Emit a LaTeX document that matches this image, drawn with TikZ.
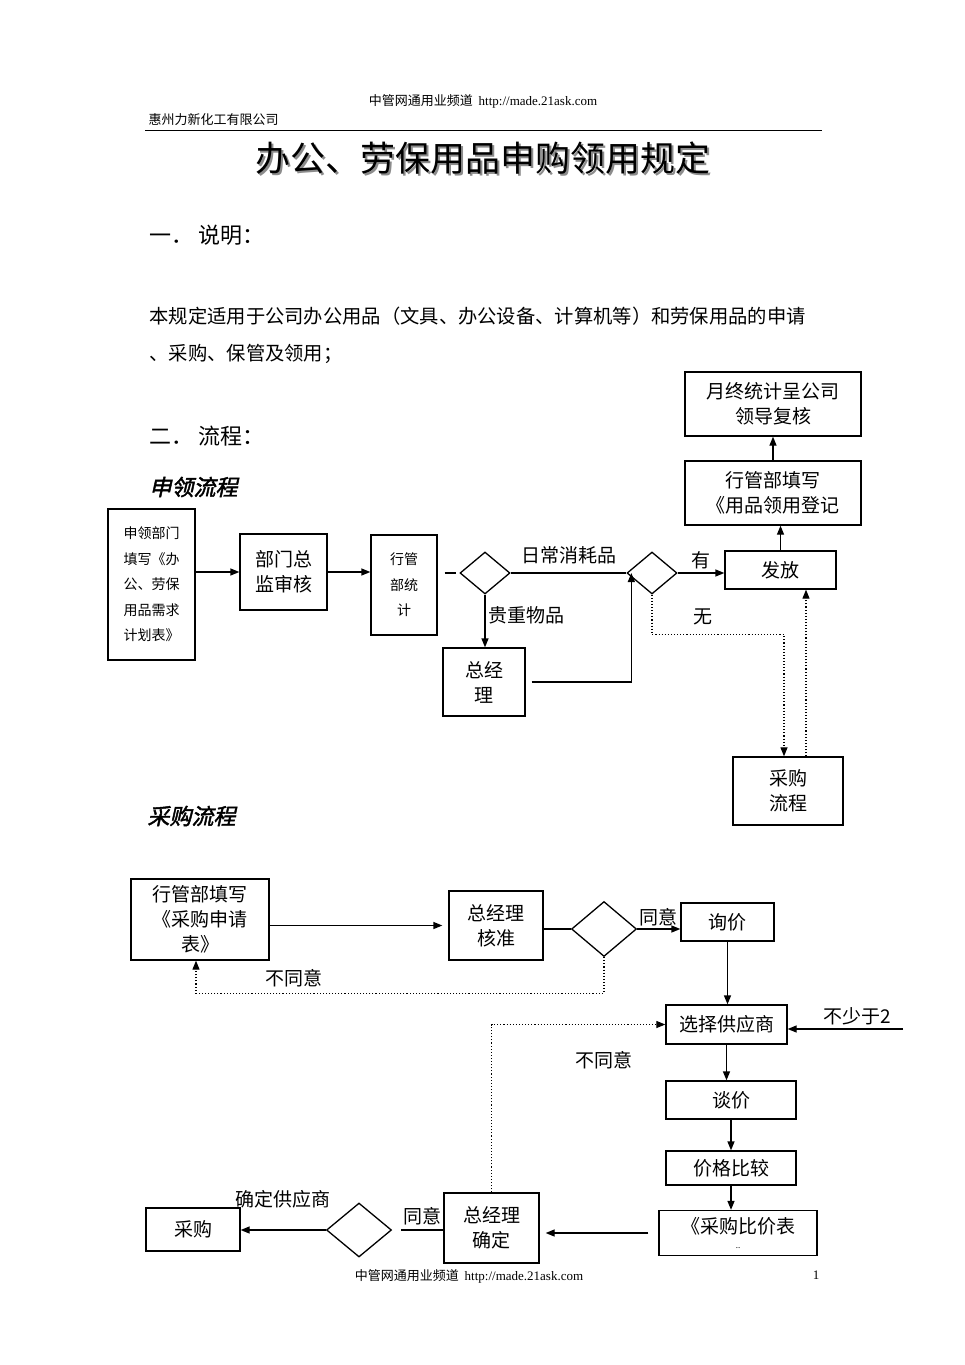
\documentclass[tikz,border=0pt]{standalone}
\usepackage{fontspec}
\setmainfont{Noto Sans CJK SC}
\newfontfamily\latinfont{Liberation Serif}
\newfontfamily\headfont{Noto Sans CJK SC}[FakeSlant=0.22,FakeBold=2]
\usetikzlibrary{shapes.geometric,arrows.meta}
\tikzset{
  box/.style={draw, line width=1.3pt, inner sep=0pt, align=center,
    font=\fontsize{19}{25}\selectfont},
  smallbox/.style={box, font=\fontsize{14}{25.5}\selectfont},
  dia/.style={draw, diamond, line width=1.3pt, inner sep=0pt},
  arr/.style={line width=1.3pt, -{Triangle[length=9pt,width=7pt]}},
  line/.style={line width=1.3pt},
  dots/.style={line width=1.1pt, dotted},
  lbl/.style={font=\fontsize{19}{23}\selectfont, inner sep=1pt}
}
\begin{document}
\begin{tikzpicture}[x=1pt, y=-1pt]
  \useasboundingbox[fill=white] (0,0) rectangle (965,1365);

  \node[font=\fontsize{13}{15}\selectfont] (top) at (483,101) {中管网通用业频道\ \ {\latinfont http://made.21ask.com}};
  \node[anchor=west, font=\fontsize{13}{15}\selectfont] (firm) at (145,120) {惠州力新化工有限公司};
  \draw[line width=1pt] (145,130) -- (822,130);
  \node[text=black!45, font=\fontsize{35}{38}\selectfont] at (485,160) {办公、劳保用品申购领用规定};
  \node[font=\fontsize{35}{38}\selectfont] (title) at (483,158) {办公、劳保用品申购领用规定};

  \node[anchor=west, font=\fontsize{22}{26}\selectfont] (s1) at (146,235) {一．\ 说明：};
  \node[anchor=west, font=\fontsize{19.3}{24}\selectfont] (p1) at (146,316) {本规定适用于公司办公用品（文具、办公设备、计算机等）和劳保用品的申请};
  \node[anchor=west, font=\fontsize{19.3}{24}\selectfont] (p2) at (146,354) {、采购、保管及领用；};
  \node[anchor=west, font=\fontsize{22}{26}\selectfont] (s2) at (146,436) {二．\ 流程：};
  \node[anchor=west, font=\headfont\fontsize{22}{26}\selectfont] (h1) at (146,487) {申领流程};
  \node[anchor=west, font=\headfont\fontsize{22}{26}\selectfont] (h2) at (144,816) {采购流程};

  \node[smallbox, minimum width=87pt, minimum height=151pt] (sq1) at (151.5,584.5) {申领部门\\填写《办\\公、劳保\\用品需求\\计划表》};
  \node[box, minimum width=87pt, minimum height=76pt] (jd) at (283.5,572) {部门总\\监审核};
  \node[smallbox, minimum width=66pt, minimum height=100pt] (xg) at (404,585) {行管\\部统\\计};
  \node[dia, minimum width=50pt, minimum height=42pt] (d1) at (485,573) {};
  \node[dia, minimum width=50pt, minimum height=42pt] (d2) at (652,573) {};
  \node[box, minimum width=111pt, minimum height=38pt] (ff) at (780.5,570) {发放};
  \node[box, minimum width=176pt, minimum height=64pt] (dj) at (773,493) {行管部填写\\《用品领用登记};
  \node[box, minimum width=176pt, minimum height=64pt] (yz) at (773,404) {月终统计呈公司\\领导复核};
  \node[box, minimum width=82pt, minimum height=68pt] (zjl) at (484,682) {总经\\理};
  \node[box, minimum width=110pt, minimum height=68pt] (cgp) at (788,791) {采购\\流程};

  \draw[arr] (sq1.east |- jd.west) -- (jd.west);
  \draw[arr] (jd.east) -- (xg.west |- jd.east);
  \draw[line] ([xshift=7pt]xg.east |- d1.west) -- ([xshift=-3pt]d1.west);
  \draw[line] (d1.east) -- node[lbl, above=7pt] {日常消耗品} (d2.west);
  \draw[arr] (d2.east) -- node[lbl, above=2pt] {有} (ff.west |- d2.east);
  \draw[arr] (ff.north) -- (ff.north |- dj.south);
  \draw[arr] (dj.north) -- (yz.south);
  \draw[arr] (d1.south) -- node[lbl, right=2pt, pos=0.4] {贵重物品} (d1.south |- zjl.north);
  \draw[arr] ([xshift=6pt]zjl.east) -| ([xshift=5pt]d2.west);
  \draw[dots, -{Triangle[length=9pt,width=7pt]}] (d2.south) -- ++(0,40) -| ([xshift=-4pt]cgp.north);
  \node[lbl] (wu) at (703,617) {无};
  \draw[dots, -{Triangle[length=9pt,width=7pt]}] ([xshift=18pt]cgp.north) -- ([xshift=18pt]cgp.north |- ff.south);

  \node[box, minimum width=138pt, minimum height=81pt] (sq) at (200,919.5) {行管部填写\\《采购申请\\表》};
  \node[box, minimum width=94pt, minimum height=69pt] (zj1) at (496,925.5) {总经理\\核准};
  \node[dia, minimum width=65pt, minimum height=55pt] (d3) at (604,929) {};
  \node[box, minimum width=93pt, minimum height=38pt] (xj) at (727.5,922) {询价};
  \node[box, minimum width=121pt, minimum height=39pt] (xz) at (726.5,1024.5) {选择供应商};
  \node[box, minimum width=130pt, minimum height=38pt] (tj) at (731,1100) {谈价};
  \node[box, minimum width=130pt, minimum height=34pt] (jg) at (731,1168) {价格比较};
  \node[box, minimum width=158pt, minimum height=45pt] (bj) at (738,1233) {《采购比价表\\[-10pt]{\fontsize{8}{8}\selectfont ..}};
  \node[box, minimum width=95pt, minimum height=70pt] (zj2) at (491.5,1228) {总经理\\确定};
  \node[dia, minimum width=65pt, minimum height=54pt] (d4) at (359,1230) {};
  \node[box, minimum width=94pt, minimum height=43pt] (cg) at (193,1229.5) {采购};
  \coordinate (in) at (903,1029);

  \draw[arr] (sq.east |- zj1.west) -- ([xshift=-6pt]zj1.west);
  \draw[line] (zj1.east |- d3.west) -- (d3.west);
  \draw[arr] (d3.east) -- node[lbl, above=1pt] {同意} (xj.west |- d3.east);
  \draw[dots, -{Triangle[length=9pt,width=7pt]}] (d3.south) -- ++(0,36) -| ([xshift=-4pt]sq.south);
  \node[lbl] (bty1) at (294,978) {不同意};
  \draw[arr] (xj.south) -- (xj.south |- xz.north);
  \draw[arr] (in) -- node[lbl, above=2pt, pos=0.4] {不少于2} (xz.east |- in);
  \draw[arr] (xz.south) -- (xz.south |- tj.north);
  \draw[arr] (tj.south) -- (jg.north);
  \draw[arr] (jg.south) -- (jg.south |- bj.north);
  \draw[arr] ([xshift=-10pt]bj.west) -- ([xshift=6pt]zj2.east |- bj.west);
  \draw[line] ([xshift=9pt]d4.east) -- node[lbl, above=3pt] {同意} (zj2.west |- d4.east);
  \draw[arr] (d4.west) -- node[lbl, above=20pt] {确定供应商} (cg.east |- d4.west);
  \draw[dots, -{Triangle[length=9pt,width=7pt]}] (zj2.north) |- (xz.west);
  \node[lbl] (bty2) at (604,1060) {不同意};

  \node[font=\fontsize{13}{15}\selectfont] (foot) at (469,1276) {中管网通用业频道\ \ {\latinfont http://made.21ask.com}};
  \node[font=\latinfont\fontsize{13}{15}\selectfont] (pg) at (816,1275) {1};
\end{tikzpicture}
\end{document}
